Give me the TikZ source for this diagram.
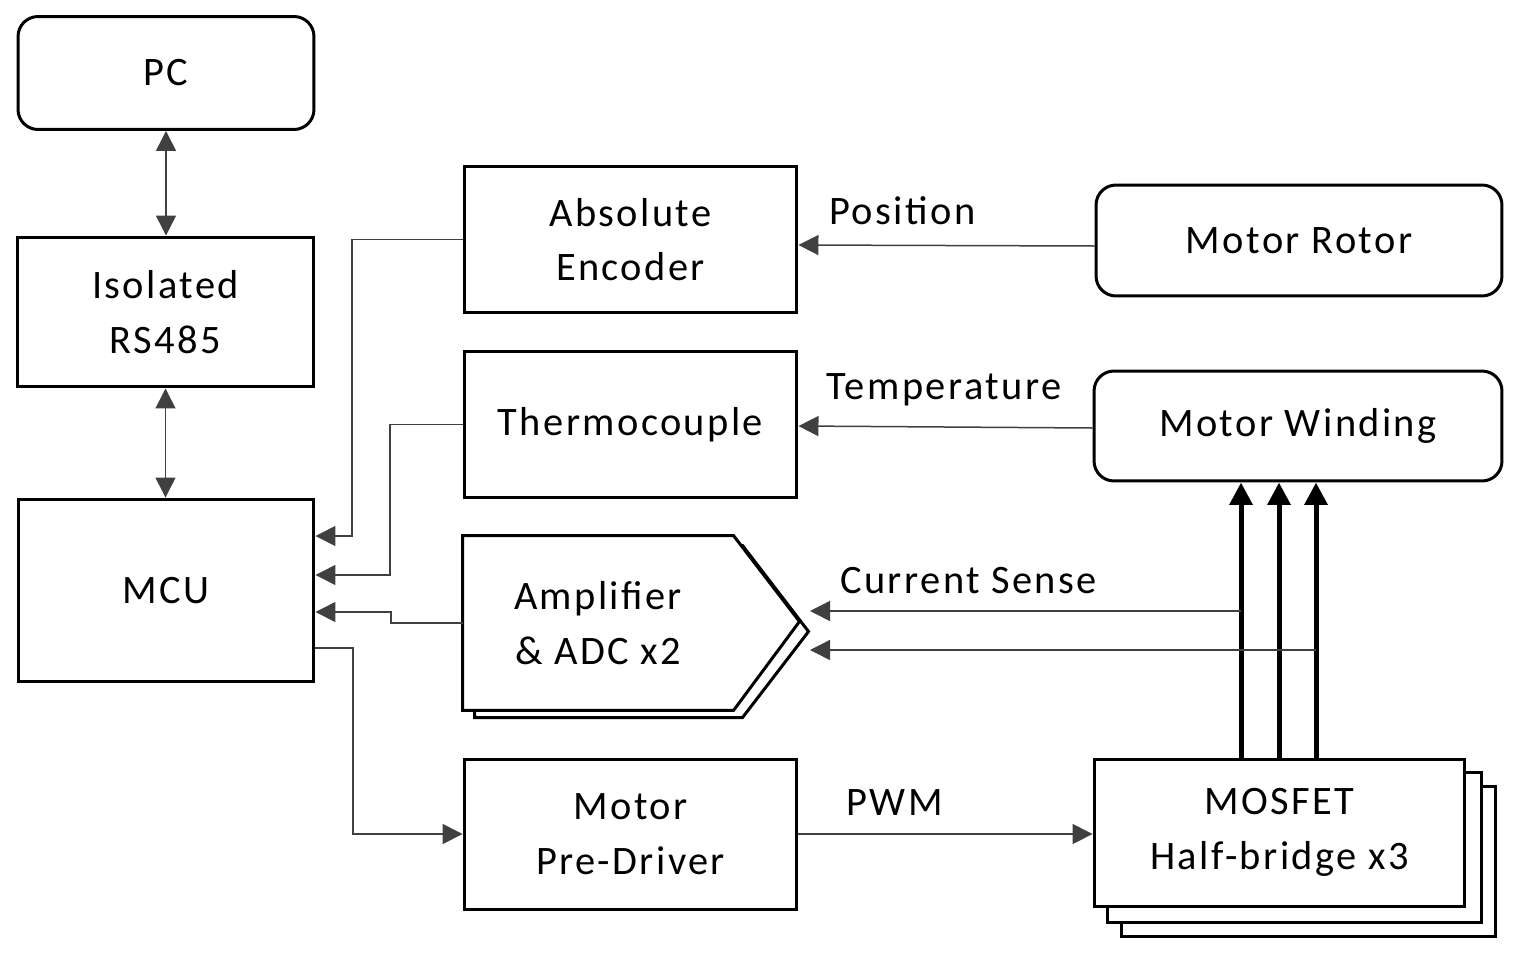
\documentclass[tikz,border=0pt]{standalone}
\usepackage{fontspec}
\setmainfont{Carlito}[LetterSpace=6]
\usetikzlibrary{arrows.meta}
\usetikzlibrary{backgrounds}
\tikzset{>={Triangle[length=0.4cm,width=0.4cm]}}
\tikzstyle{block}=[draw=black,line width=0.6mm,fill=white,align=center,inner sep=0pt,font=\fontsize{23}{31}\selectfont]
\tikzstyle{roundblock}=[block,rounded corners=0.4cm]
\tikzstyle{outline}=[draw=black,line width=0.6mm,fill=white]
\tikzstyle{link}=[draw=black!75,line width=0.3mm]
\tikzstyle{powerlink}=[draw=black,line width=1mm,-{Triangle[length=0.45cm,width=0.45cm]}]
\tikzstyle{siglabel}=[anchor=west,inner sep=0pt,font=\fontsize{23}{27}\selectfont]

\begin{document}
\begin{tikzpicture}[x=0.02cm,y=-0.02cm]
  \useasboundingbox (0,0) rectangle (1523,960);
  % left column
  \node[roundblock,minimum width=5.92cm,minimum height=2.26cm] (pc) at (166,73) {PC};
  \node[block,minimum width=5.94cm,minimum height=3cm] (rs) at (165.5,312) {Isolated\\RS485};
  \node[block,minimum width=5.92cm,minimum height=3.66cm] (mcu) at (166,590.5) {MCU};

  % middle column
  \node[block,minimum width=6.66cm,minimum height=2.94cm] (enc) at (630.5,239.5) {Absolute\\Encoder};
  \node[block,minimum width=6.66cm,minimum height=2.94cm] (thermo) at (630.5,424.5) {Thermocouple};
  \node[block,draw=none,fill=none,minimum width=5.36cm,minimum height=3.44cm] (amp) at (598,623) {Amplifier\\\& ADC x2};
  \node[block,minimum width=6.66cm,minimum height=3cm] (drv) at (630.5,834) {Motor\\Pre-Driver};

  % right column
  \node[roundblock,minimum width=8.12cm,minimum height=2.22cm] (rotor) at (1299,240.5) {Motor Rotor};
  \node[roundblock,minimum width=8.16cm,minimum height=2.2cm] (winding) at (1298,426) {Motor Winding};
  \node[block,minimum width=7.42cm,minimum height=2.94cm] (mos) at (1279.5,832.5) {MOSFET\\Half-bridge x3};

  % stacked copies
  \begin{scope}[on background layer]
    \foreach \d in {29,15}
      \draw[outline] ([shift={(\d,\d)}]mos.south west) rectangle ([shift={(\d,\d)}]mos.north east);
    \draw[outline] ([shift={(12,10)}]amp.north west) -- ++(268,0) -- ++(66,86) -- ++(-66,86) -- ++(-268,0) -- cycle;
    \draw[outline] (amp.north west) -- (amp.north east) -- ++(66,86) -- (amp.south east) -- (amp.south west) -- cycle;
  \end{scope}

  % host link
  \draw[link,<->] (pc.south) -- (pc.south |- rs.north);
  \draw[link,<->] (rs.south) -- (rs.south |- mcu.north);

  % into the MCU
  \draw[link,->] (enc.west) -| (352,536) -- (mcu.east |- 0,536);
  \draw[link,->] (thermo.west) -| (390,575) -- (mcu.east |- 0,575);
  \draw[link,->] (amp.west) -| (391,612) -- (mcu.east |- 0,612);
  \draw[link,->] (mcu.east |- 0,648) -| (353,834) -- (drv.west);

  % from the motor
  \draw[link,->] (rotor.west |- 0,246) -- (enc.east |- 0,245);
  \node[siglabel] (poslabel) at (829,211) {Position};
  \draw[link,->] (winding.west |- 0,428) -- (thermo.east |- 0,426);
  \node[siglabel] (templabel) at (826,390) {Temperature};

  % phases
  \foreach \px in {1241,1279,1316}
    \draw[powerlink] (mos.north -| \px,0) -- (winding.south -| \px,0);

  % current sense
  \coordinate (senseA) at (1241,611);
  \coordinate (senseB) at (1316,650);
  \draw[link,->] (senseA) -- (810,611);
  \draw[link,->] (senseB) -- (810,650);
  \node[siglabel] (curlabel) at (840,581) {Current Sense};

  % gate drive
  \draw[link,->] (drv.east) -- (mos.west |- drv.east);
  \node[siglabel] (pwmlabel) at (846,803) {PWM};
\end{tikzpicture}
\end{document}
